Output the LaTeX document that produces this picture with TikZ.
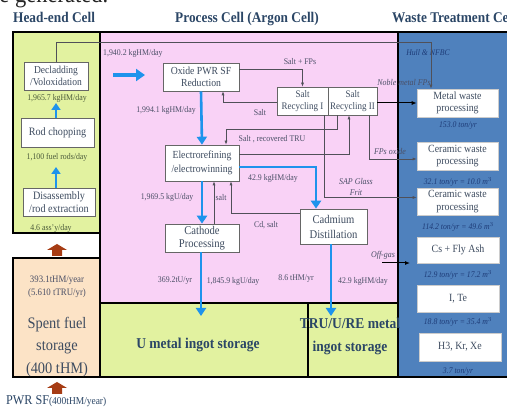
\documentclass[tikz,border=0pt]{standalone}
\usepackage{fontspec}
\setmainfont[FakeStretch=0.9]{Liberation Serif}
\usetikzlibrary{arrows.meta}
\definecolor{hgreen}{HTML}{E2F2A0}
\definecolor{ppink}{HTML}{F9D2F6}
\definecolor{wblue}{HTML}{4F81BD}
\definecolor{peach}{HTML}{FCE3C6}
\definecolor{barrow}{HTML}{1E93EC}
\definecolor{brownar}{HTML}{A63C14}
\definecolor{titc}{HTML}{2B4666}
\definecolor{boxtxt}{HTML}{3E4C60}
\definecolor{lblc}{HTML}{4A4F66}
\definecolor{hlbl}{HTML}{4A5A3A}
\definecolor{wtxt}{HTML}{1E3C78}
\definecolor{connc}{HTML}{505058}
\begin{document}
\begin{tikzpicture}[x=1pt,y=-1pt,
  procbox/.style={draw=gray!80!black, line width=0.6pt, fill=white, text=boxtxt,
    font=\fontsize{11.3}{12.5}\selectfont, align=center, inner sep=0pt},
  wbox/.style={procbox, draw=gray!40, font=\fontsize{11}{12.5}\selectfont},
  lbl/.style={font=\fontsize{8.7}{10}\selectfont, text=lblc, inner sep=0pt},
  hl/.style={lbl, text=hlbl},
  wl/.style={font=\itshape\fontsize{8.6}{10}\selectfont, text=wtxt, inner sep=0pt},
  pl/.style={font=\itshape\fontsize{8.8}{10}\selectfont, text=lblc, inner sep=0pt},
  titl/.style={font=\bfseries\fontsize{14.8}{16}\selectfont, text=titc, inner sep=0pt},
  bigt/.style={font=\bfseries\fontsize{15}{17}\selectfont, text=titc, inner sep=0pt, align=center},
  conn/.style={draw=connc, line width=0.6pt, -{Latex[length=4pt,width=3pt]}},
  wconn/.style={draw=black, line width=1pt, -{Latex[length=5pt,width=4pt]}},
  bluearr/.style={draw=barrow, line width=2.6pt, -{Triangle[length=8pt,width=10pt]}},
  cellborder/.style={draw=black, line width=2.6pt}
]
\useasboundingbox (0,0) rectangle (507,409);
\clip (0,0) rectangle (507,409);
\fill[white] (0,0) rectangle (507,409);

% partially visible caption line
\node[anchor=base west, inner sep=0pt, font=\fontsize{25}{25}\selectfont, text=black!85] (cap) at (-12,2.5) {be generated.};

% region fills
\fill[ppink] (100,32) rectangle (398,303);
\fill[hgreen] (13,32) rectangle (100,233);
\fill[peach] (13,258) rectangle (100,377);
\fill[hgreen] (100,303) rectangle (308,377);
\fill[hgreen] (308,303) rectangle (398,377);
\fill[wblue] (398,32) rectangle (512,377);

% titles
\node[titl, anchor=base west] (t1) at (13,23) {Head-end Cell};
\node[titl, anchor=base west] (t2) at (175,23) {Process Cell (Argon Cell)};
\node[titl, anchor=base west] (t3) at (392,23) {Waste Treatment Cell};

% borders
\draw[cellborder] (13,32) rectangle (100,233);
\draw[cellborder] (13,258) rectangle (100,377);
\draw[cellborder] (100,32) -- (398,32);
\draw[cellborder] (100,233) -- (100,303);
\draw[cellborder] (100,303) rectangle (308,377);
\draw[cellborder] (308,303) rectangle (398,377);
\draw[cellborder] (398,32) -- (398,377) -- (512,377);
\draw[cellborder] (398,32) -- (512,32);

% head-end boxes
\node[procbox, font=\fontsize{10.6}{12}\selectfont, minimum width=64pt, minimum height=28pt] (decl) at (56,76) {Decladding\\/Voloxidation};
\node[procbox, minimum width=73pt, minimum height=29pt] (rod) at (57.5,132.5) {Rod chopping};
\node[procbox, minimum width=72pt, minimum height=28pt] (dis) at (59,202) {Disassembly\\/rod extraction};
\node[hl] (l1) at (57,98) {1,965.7 kgHM/day};
\node[hl] (l2) at (57,157) {1,100 fuel rods/day};
\node[hl] (l3) at (51,228.5) {4.6 ass'y/day};
\coordinate (a1) at (56,103);
\coordinate (a2) at (56,167);
\draw[bluearr, line width=2.4pt, -{Triangle[length=7pt,width=9pt]}] (rod.north -| a1) -- (a1);
\draw[bluearr, line width=2.4pt, -{Triangle[length=7pt,width=9pt]}] (dis.north -| a2) -- (a2);

% spent fuel storage
\node[lbl, font=\fontsize{9.8}{13}\selectfont, align=center] (sf1) at (57,286.5) {393.1tHM/year\\(5.610 tTRU/yr)};
\node[inner sep=0pt, align=center, text=boxtxt, font=\fontsize{16}{22.5}\selectfont] (sf2) at (57,347) {Spent fuel\\storage\\(400 tHM)};

% brown arrows
\fill[brownar] (52,256) -- (52,250) -- (47,250) -- (57,244) -- (67,250) -- (62,250) -- (62,256) -- cycle;
\fill[brownar] (52,394) -- (52,388) -- (47,388) -- (57,382) -- (67,388) -- (62,388) -- (62,394) -- cycle;
\node[anchor=base west, inner sep=0pt, text=titc] (pwr) at (6,405) {\fontsize{13.5}{14}\selectfont PWR SF\fontsize{10.5}{11}\selectfont(400tHM/year)};

% process cell boxes
\node[procbox, font=\fontsize{10.8}{12.5}\selectfont, minimum width=76pt, minimum height=28pt] (oxide) at (201,77) {Oxide PWR SF\\Reduction};
\node[procbox, font=\fontsize{10}{12}\selectfont, minimum width=51pt, minimum height=28pt] (sr1) at (302.5,101) {Salt\\Recycling I};
\node[procbox, font=\fontsize{10}{12}\selectfont, minimum width=49pt, minimum height=28pt] (sr2) at (352.5,101) {Salt\\Recycling II};
\node[procbox, font=\fontsize{10.8}{14}\selectfont, minimum width=74pt, minimum height=36pt] (elec) at (202,163) {Electrorefining\\/electrowinning};
\node[procbox, font=\fontsize{11.8}{13}\selectfont, minimum width=74pt, minimum height=28pt] (cath) at (202,238) {Cathode\\Processing};
\node[procbox, font=\fontsize{11.8}{15}\selectfont, minimum width=67pt, minimum height=35pt] (cad) at (333.5,226.5) {Cadmium\\Distillation};

% waste boxes
\node[wbox, minimum width=81pt, minimum height=28pt] (metal) at (457.5,103) {Metal waste\\processing};
\node[wbox, minimum width=81pt, minimum height=28pt] (cer1) at (457.5,156) {Ceramic waste\\processing};
\node[wbox, minimum width=81pt, minimum height=27pt] (cer2) at (457.5,201.5) {Ceramic waste\\processing};
\node[wbox, minimum width=82pt, minimum height=26pt] (cs) at (458,250) {Cs + Fly Ash};
\node[wbox, minimum width=82pt, minimum height=27pt] (ite) at (458,298.5) {I, Te};
\node[wbox, minimum width=82pt, minimum height=28pt] (h3) at (460,347) {H3, Kr, Xe};

% waste labels
\node[wl] (w1) at (458,126) {153.0 ton/yr};
\node[wl] (w2) at (458,182) {32.1 ton/yr = 10.0 m$^3$};
\node[wl] (w3) at (458,227) {114.2 ton/yr = 49.6 m$^3$};
\node[wl] (w4) at (458,275) {12.9 ton/yr = 17.2 m$^3$};
\node[wl] (w5) at (458,322) {18.8 ton/yr = 35.4 m$^3$};
\node[wl] (w6) at (458,372) {3.7 ton/yr};

% storage texts
\node[bigt] (ust) at (198,345) {U metal ingot storage};
\node[bigt, font=\bfseries\fontsize{15}{23}\selectfont] (tst) at (350,336.5) {TRU/U/RE metal\\ingot storage};

% process labels
\node[lbl, anchor=west] (p0) at (103,53) {1,940.2 kgHM/day};
\node[lbl] (p1) at (300,62) {Salt + FPs};
\node[lbl] (p2) at (260,113) {Salt};
\node[lbl] (p3) at (166,110) {1,994.1 kgHM/day};
\node[lbl] (p4) at (272,139) {Salt , recovered TRU};
\node[lbl] (p5) at (273,178) {42.9 kgHM/day};
\node[lbl] (p6) at (167,197) {1,969.5 kgU/day};
\node[lbl] (p7) at (221,198) {salt};
\node[lbl] (p8) at (266,225) {Cd, salt};
\node[pl, align=center, font=\itshape\fontsize{8.8}{11}\selectfont] (p9) at (356,186.5) {SAP Glass\\Frit};
\node[pl] (p10) at (390,151) {FPs oxide};
\node[pl] (p11) at (404,82) {Noble metal FPs};
\node[wl] (p12) at (428,53) {Hull \& NFBC};
\node[pl] (p13) at (383,255) {Off-gas};
\node[lbl] (b1) at (175,281) {369.2tU/yr};
\node[lbl] (b2) at (233,281) {1,845.9 kgU/day};
\node[lbl] (b3) at (296,279) {8.6 tHM/yr};
\node[lbl] (b4) at (363,281) {42.9 kgHM/day};

% blue flows
\coordinate (in0) at (113,75);
\coordinate (in1) at (145,75);
\draw[bluearr, line width=3.4pt, -{Triangle[length=9pt,width=12pt]}] (in0) -- (in1);
\draw[bluearr] (oxide.south) -- (elec.north);
\draw[bluearr] (elec.south) -- (cath.north);
\coordinate (uin) at (201,316);
\draw[bluearr] (cath.south -| uin) -- (uin);
\draw[bluearr] ([yshift=-4pt]elec.east) -| ([xshift=-17.5pt]cad.north);
\coordinate (tin) at (331,316);
\draw[bluearr] (cad.south -| tin) -- (tin);

% thin connectors
\coordinate (hullc) at (431,42);
\draw[conn] (decl.north) |- (hullc) -- (metal.north -| hullc);
\draw[conn] ([yshift=8pt]oxide.east) -| (sr1.north);
\draw[conn] ([yshift=-1pt]sr1.west) -| ([xshift=22pt]oxide.south);
\draw[conn] ([xshift=-15.5pt]sr2.south) -- ++(0,14) -| ([xshift=24pt]elec.north);
\draw[conn] ([yshift=9pt]elec.east) -| ([xshift=-3.5pt]sr2.south);
\draw[conn] ([yshift=13.5pt]cad.west) -| ([xshift=29pt]elec.south);
\draw[conn] ([xshift=12pt]cath.north) -- ([xshift=12pt]elec.south);
\draw[conn] ([xshift=21.5pt]sr1.south) |- ([yshift=4pt]cer2.west);
\draw[conn] ([xshift=16.5pt]sr2.south) |- ([yshift=-3pt]cer1.west);
\draw[wconn] ([yshift=-2pt]sr2.east) -- (metal.west);
\coordinate (og0) at (382,263);
\coordinate (og1) at (410,263);
\draw[wconn] (og0) -- (og1);
\end{tikzpicture}
\end{document}
